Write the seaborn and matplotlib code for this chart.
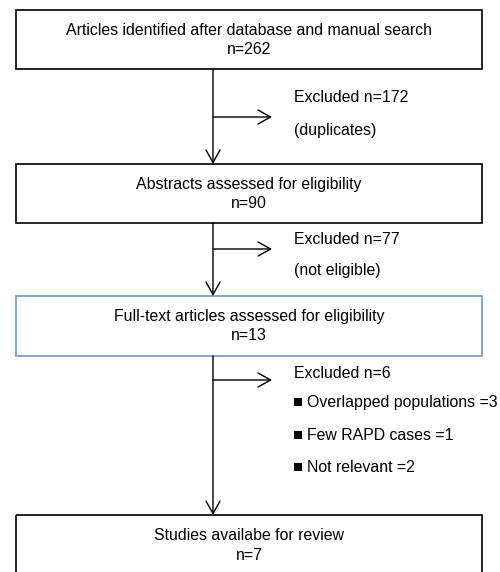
import matplotlib
matplotlib.use("Agg")
import matplotlib.pyplot as plt
from matplotlib.patches import Rectangle
import seaborn as sns
import pandas as pd

# flow stages and counts
stage_titles = ["Articles identified after database and manual search",
                "Abstracts assessed for eligibility",
                "Full-text articles assessed for eligibility",
                "Studies availabe for review"]
stage_counts = [262, 90, 13, 7]
excluded_counts = [172, 77, 6]
excluded_notes = ["(duplicates)", "(not eligible)", None]
reasons = ["Overlapped populations", "Few RAPD cases", "Not relevant"]
reason_counts = [3, 1, 2]

sns.set_theme(style="white")
plt.rcParams['font.family'] = ['Liberation Sans', 'DejaVu Sans']
plt.rcParams['text.color'] = 'black'

fig = plt.figure(figsize=(5, 5.72), dpi=100)
ax = fig.add_axes([0, 0, 1, 1])

# layout (pixels)
box_x0, box_x1 = 16, 482
box_y = [(10, 69), (164, 223), (296, 356), (515, 590)]
box_edges = ["black", "black", "#6F94C6", "black"]
stem_x = 213
side_y = [117, 249, 380]
side_x_end = 272
text_x = 294
fs = 11.4

arrow = dict(arrowstyle="->,head_length=0.75,head_width=0.42", lw=1.0,
             color="black", shrinkA=0, shrinkB=0)

cx = (box_x0 + box_x1) / 2
for i, (title, n) in enumerate(zip(stage_titles, stage_counts)):
    y0, y1 = box_y[i]
    ax.add_patch(Rectangle((box_x0, y0), box_x1 - box_x0, y1 - y0,
                           fill=False, ec=box_edges[i], lw=1.2))
    ax.text(cx, y0 + 20.5, title, ha="center", va="center", fontsize=fs)
    ax.text(cx, y0 + 40, f"n={n}", ha="center", va="center", fontsize=fs)

for i in range(3):
    ax.annotate("", xy=(stem_x, box_y[i + 1][0]), xytext=(stem_x, box_y[i][1]),
                arrowprops=arrow)
    ax.annotate("", xy=(side_x_end, side_y[i]), xytext=(stem_x, side_y[i]),
                arrowprops=arrow)

# exclusion texts
excl_y = [97, 240, 373]
note_y = [131, 271]
for i, n in enumerate(excluded_counts):
    ax.text(text_x, excl_y[i], f"Excluded n={n}", ha="left", va="center", fontsize=fs)
    if excluded_notes[i]:
        ax.text(text_x, note_y[i], excluded_notes[i], ha="left", va="center", fontsize=fs)

reason_y = [402, 435, 467]
bullets = pd.DataFrame({"x": [text_x + 4] * len(reasons), "y": reason_y})
sns.scatterplot(data=bullets, x="x", y="y", marker="s", s=32, color="black",
                edgecolor="black", linewidth=0, ax=ax, legend=False)
for r, c, y in zip(reasons, reason_counts, reason_y):
    ax.text(text_x + 13, y, f"{r} ={c}", ha="left", va="center", fontsize=fs)

ax.set_xlim(0, 500)
ax.set_ylim(572, 0)
ax.axis("off")
fig.savefig("out.png", dpi=100)
